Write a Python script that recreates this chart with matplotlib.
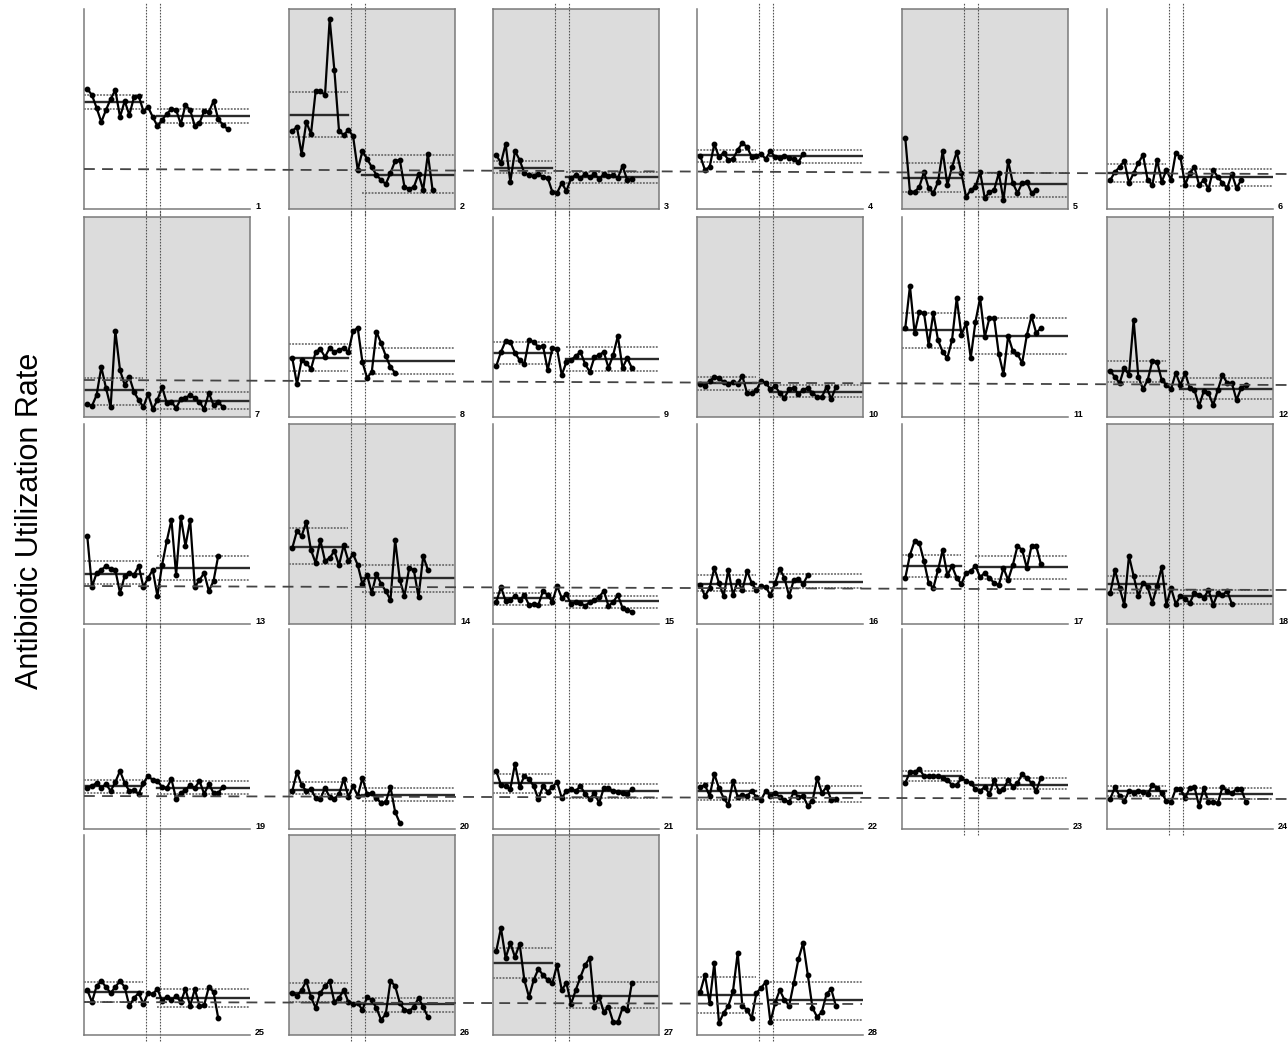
import numpy as np
import matplotlib.pyplot as plt
from matplotlib import transforms
from matplotlib.lines import Line2D

"""
    Control charts of antibiotic utilization, 28 units
"""

# monthly rates per unit (same arbitrary rate scale for every panel)
p1 = [120, 114, 101, 87, 99, 110, 119, 92, 108, 94, 112, 113, 98, 102, 92, 83, 89, 95, 100, 99, 85, 104, 99, 83, 86, 98, 97, 108, 90, 84, 80]
p2 = [78, 82, 55, 87, 75, 118, 118, 114, 190, 139, 78, 74, 79, 73, 39, 58, 50, 42, 34, 29, 25, 36, 48, 49, 22, 20, 22, 35, 19, 55, 19]
p3 = [54, 46, 65, 27, 58, 49, 36, 34, 33, 35, 32, 31, 17, 16, 26, 18, 31, 34, 31, 35, 32, 35, 30, 35, 33, 34, 31, 43, 29, 30]
p4 = [53, 39, 42, 65, 52, 56, 49, 50, 59, 66, 62, 52, 53, 55, 50, 58, 52, 51, 53, 51, 50, 47, 55]
p5 = [71, 17, 17, 22, 37, 21, 16, 27, 58, 24, 42, 57, 36, 12, 19, 22, 37, 11, 17, 19, 36, 9, 48, 26, 16, 26, 27, 16, 19]
p6 = [29, 37, 42, 48, 26, 36, 46, 54, 29, 24, 49, 27, 39, 29, 56, 52, 24, 36, 42, 24, 29, 20, 39, 32, 26, 21, 35, 21, 29]
p7 = [13, 11, 22, 50, 29, 10, 86, 47, 32, 40, 25, 17, 10, 23, 8, 17, 30, 14, 15, 9, 18, 19, 22, 19, 15, 8, 24, 12, 15, 10]
p8 = [59, 33, 57, 54, 48, 65, 68, 60, 69, 65, 67, 69, 65, 86, 89, 55, 39, 45, 85, 74, 61, 50, 44]
p9 = [51, 65, 76, 75, 64, 57, 53, 77, 75, 70, 71, 47, 69, 68, 42, 55, 57, 61, 65, 53, 45, 60, 62, 65, 49, 62, 81, 49, 59, 49]
p10 = [33, 31, 36, 40, 39, 35, 33, 35, 33, 41, 24, 24, 27, 36, 34, 28, 31, 24, 19, 28, 29, 23, 27, 29, 24, 20, 20, 30, 18, 30]
p11 = [89, 131, 84, 105, 104, 72, 104, 77, 65, 59, 77, 119, 82, 94, 59, 95, 119, 80, 99, 99, 63, 43, 81, 66, 63, 54, 82, 101, 84, 89]
p12 = [46, 40, 34, 49, 42, 97, 40, 28, 37, 56, 55, 37, 32, 28, 44, 32, 44, 29, 27, 11, 26, 24, 12, 27, 42, 34, 34, 17, 29, 32]
p13 = [88, 37, 51, 54, 58, 55, 54, 31, 48, 51, 49, 58, 37, 46, 54, 28, 59, 83, 104, 49, 107, 78, 104, 37, 44, 51, 33, 43, 68]
p14 = [76, 93, 88, 102, 74, 61, 84, 63, 66, 73, 59, 79, 63, 70, 59, 40, 49, 31, 50, 40, 33, 24, 84, 44, 28, 56, 54, 27, 68, 54]
p15 = [22, 37, 23, 24, 28, 24, 29, 19, 20, 19, 33, 29, 22, 38, 26, 30, 20, 22, 21, 18, 22, 24, 27, 33, 18, 22, 29, 16, 14, 12]
p16 = [39, 28, 36, 56, 41, 28, 54, 29, 43, 34, 53, 41, 34, 38, 37, 29, 41, 55, 46, 28, 44, 45, 40, 49]
p17 = [46, 69, 83, 81, 63, 41, 36, 54, 74, 49, 58, 46, 40, 51, 53, 58, 47, 51, 46, 41, 39, 56, 44, 59, 78, 74, 56, 78, 78, 60]
p18 = [31, 54, 36, 19, 68, 48, 28, 41, 37, 21, 38, 57, 19, 36, 20, 28, 25, 21, 31, 29, 26, 34, 19, 31, 29, 33, 20]
p19 = [41, 43, 46, 41, 45, 38, 47, 58, 46, 38, 39, 35, 46, 53, 49, 48, 42, 41, 50, 30, 36, 39, 44, 41, 48, 35, 45, 36, 36, 42]
p20 = [38, 57, 44, 38, 40, 31, 30, 41, 32, 30, 35, 50, 32, 43, 33, 51, 35, 36, 31, 26, 27, 42, 17, 6]
p21 = [58, 44, 43, 40, 65, 42, 53, 50, 43, 30, 43, 37, 42, 47, 31, 38, 40, 38, 43, 35, 30, 36, 26, 41, 41, 38, 37, 36, 35, 40]
p22 = [42, 44, 33, 55, 41, 31, 24, 48, 32, 34, 33, 38, 32, 29, 38, 33, 36, 32, 29, 27, 37, 32, 33, 23, 28, 51, 36, 42, 29, 30]
p23 = [46, 57, 57, 60, 53, 53, 53, 53, 51, 49, 44, 44, 51, 48, 46, 40, 38, 42, 35, 49, 38, 40, 49, 42, 46, 55, 51, 46, 38, 51]
p24 = [30, 42, 33, 28, 38, 36, 38, 37, 35, 44, 41, 36, 28, 27, 40, 40, 31, 41, 42, 23, 41, 27, 27, 26, 42, 38, 36, 40, 40, 27]
p25 = [45, 33, 49, 54, 48, 42, 48, 54, 48, 29, 37, 42, 31, 42, 41, 46, 34, 38, 35, 39, 33, 46, 29, 46, 29, 30, 48, 43, 17]
p26 = [42, 39, 45, 54, 38, 27, 42, 49, 54, 33, 37, 45, 33, 31, 32, 25, 38, 35, 27, 15, 21, 54, 49, 32, 25, 24, 28, 37, 28, 18]
p27 = [84, 107, 77, 92, 78, 91, 55, 38, 55, 66, 60, 55, 52, 70, 45, 52, 31, 45, 58, 70, 77, 28, 38, 23, 28, 13, 13, 27, 25, 52]
p28 = [43, 60, 32, 72, 12, 22, 29, 44, 82, 29, 25, 17, 42, 47, 53, 13, 32, 45, 35, 29, 52, 76, 92, 60, 27, 18, 23, 41, 46, 29]

# centre line and control limits before / after the intervention
pre_center = [107, 94, 41, 54, 31, 36, 27, 59, 64, 34, 87, 46, 50, 77, 26, 40, 58, 40, 43, 39, 46, 38, 53, 38, 43, 42, 72, 40]
pre_ucl = [114, 117, 48, 59, 46, 45, 39, 73, 75, 40, 104, 56, 63, 96, 31, 49, 69, 48, 49, 47, 55, 46, 58, 43, 53, 52, 87, 58]
pre_lcl = [100, 72, 36, 47, 17, 27, 12, 46, 53, 27, 69, 35, 40, 60, 19, 33, 47, 31, 36, 35, 36, 29, 48, 33, 33, 33, 57, 22]
post_center = [93, 34, 32, 53, 25, 32, 16, 56, 58, 25, 81, 28, 56, 46, 23, 42, 57, 28, 41, 34, 38, 36, 44, 35, 37, 31, 39, 35]
post_ucl = [100, 54, 37, 59, 36, 40, 25, 69, 70, 32, 99, 39, 68, 59, 28, 50, 68, 34, 48, 41, 45, 43, 51, 41, 46, 37, 53, 53]
post_lcl = [86, 16, 26, 46, 12, 23, 8, 43, 46, 20, 63, 18, 44, 32, 16, 36, 45, 20, 35, 28, 31, 27, 40, 30, 28, 23, 27, 15]

shaded = [2, 3, 5, 7, 10, 12, 14, 18, 26, 27]

# overall reference level (dashed), left and right end of each row
ref_left = [40, 37, 38, 33, 33]
ref_right = [35, 32, 34, 30, 31]
ref_stop = [1288, 1288, 1288, 1288, 862]

series = [p1, p2, p3, p4, p5, p6, p7, p8, p9, p10, p11, p12, p13, p14,
          p15, p16, p17, p18, p19, p20, p21, p22, p23, p24, p25, p26, p27, p28]

W, H = 1288, 1043
col_left = [84, 289, 493, 697, 902, 1107]
row_bottom = [209, 417, 624, 829, 1035]
pw, ph = 166, 200
x_lo, x_hi = -0.7, 34.8
v1, v2 = 12.6, 15.6
pre_end, post_start = 12.0, 15.0

plt.rcParams['font.family'] = ['Liberation Sans', 'DejaVu Sans']
fig = plt.figure(figsize=(W / 100, H / 100), dpi=100)

axes = []
for i, vals in enumerate(series):
    n = i + 1
    r, c = i // 6, i % 6
    ax = fig.add_axes([col_left[c] / W, 1 - row_bottom[r] / H, pw / W, ph / H])
    axes.append(ax)
    gray = n in shaded
    ax.set_facecolor('#dcdcdc' if gray else 'white')
    for s in ['top', 'right']:
        ax.spines[s].set_visible(gray)
    for s in ax.spines.values():
        s.set_color('#7a7a7a')
        s.set_linewidth(1.1)
    ax.set_xticks([])
    ax.set_yticks([])
    ax.set_xlim(x_lo, x_hi)
    ax.set_ylim(0, 200)

    for xv in (v1, v2):
        ax.axvline(xv, ymin=-0.03, ymax=1.03, clip_on=False, color='#555555', lw=0.8, ls=(0, (1.5, 1.2)))

    k = i
    ax.plot([x_lo, pre_end], [pre_center[k]] * 2, color='#2a2a2a', lw=1.7)
    ax.plot([post_start, x_hi], [post_center[k]] * 2, color='#2a2a2a', lw=1.7)
    for lim_pre, lim_post in ((pre_ucl[k], post_ucl[k]), (pre_lcl[k], post_lcl[k])):
        ax.plot([x_lo, pre_end], [lim_pre] * 2, color='#5a5a5a', lw=1.1, ls=(0, (1.2, 0.9)))
        ax.plot([post_start, x_hi], [lim_post] * 2, color='#5a5a5a', lw=1.1, ls=(0, (1.2, 0.9)))

    x = np.arange(len(vals))
    ax.plot(x, vals, color='black', lw=1.6, marker='o', ms=3.2, zorder=4)

    ax.text(1.03, 0.012, str(n), transform=ax.transAxes, fontsize=6.5,
            fontweight='bold', ha='left', va='center')

# long dashed reference line across each row
for r in range(5):
    ax0 = axes[r * 6]
    tr = transforms.blended_transform_factory(fig.transFigure, ax0.transData)
    fig.add_artist(Line2D([84 / W, ref_stop[r] / W], [ref_left[r], ref_right[r]], transform=tr,
                          color='#444444', lw=1.3, ls=(0, (6, 4)), zorder=5))

fig.text(30 / W, 1 - 521 / H, 'Antibiotic Utilization Rate', rotation=90,
         fontsize=22, ha='center', va='center')

fig.savefig('out.png', dpi=100)
